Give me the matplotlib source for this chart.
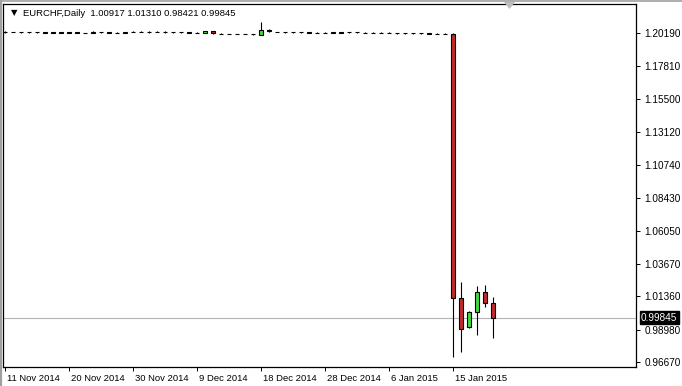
import matplotlib.pyplot as plt
from matplotlib.lines import Line2D
from matplotlib.patches import Polygon
import matplotlib.transforms as mtransforms
import numpy as np

plt.rcParams['font.family'] = ['Liberation Sans', 'DejaVu Sans']

# daily bars, Sundays included (MT4 style), 11 Nov 2014 .. 21 Jan 2015
opens = [1.2027, 1.2025, 1.2024, 1.2024, 1.2023, 1.2023, 1.2022, 1.2023, 1.2022, 1.2026,
         1.2021, 1.2021, 1.2024, 1.2023, 1.2022, 1.2022, 1.2026, 1.2028, 1.2027, 1.2028,
         1.2026, 1.2024, 1.2023, 1.2023, 1.2022, 1.2019, 1.2031, 1.2014, 1.2013, 1.2013,
         1.2012, 1.2011, 1.2008, 1.2042, 1.2027, 1.2026, 1.2023, 1.2024, 1.2023, 1.2022,
         1.2022, 1.2022, 1.2023, 1.2023, 1.2024, 1.2022, 1.2021, 1.2021, 1.2020, 1.2019,
         1.2018, 1.2017, 1.2016, 1.2016, 1.2015, 1.2014, 1.2012, 1.0124, 0.9917, 1.0024,
         1.0167, 1.00917]
highs = [1.2032, 1.2028, 1.2027, 1.2029, 1.2025, 1.2026, 1.2025, 1.2027, 1.2028, 1.2028,
         1.2022, 1.2030, 1.2029, 1.2027, 1.2024, 1.2027, 1.2030, 1.2032, 1.2033, 1.2033,
         1.2030, 1.2026, 1.2024, 1.2028, 1.2027, 1.2033, 1.2034, 1.2017, 1.2014, 1.2015,
         1.2015, 1.2014, 1.2098, 1.2045, 1.2028, 1.2029, 1.2028, 1.2026, 1.2024, 1.2025,
         1.2023, 1.2026, 1.2025, 1.2028, 1.2028, 1.2024, 1.2023, 1.2027, 1.2024, 1.2021,
         1.2020, 1.2019, 1.2017, 1.2018, 1.2017, 1.2016, 1.2018, 1.0239, 1.0031, 1.0210,
         1.0217, 1.01310]
lows = [1.2022, 1.2023, 1.2021, 1.2020, 1.2022, 1.2021, 1.2020, 1.2020, 1.2019, 1.2018,
        1.2020, 1.2019, 1.2020, 1.2019, 1.2020, 1.2018, 1.2024, 1.2025, 1.2021, 1.2024,
        1.2020, 1.2021, 1.2022, 1.2018, 1.2017, 1.2016, 1.2015, 1.2011, 1.2012, 1.2010,
        1.2009, 1.2008, 1.2006, 1.2029, 1.2025, 1.2021, 1.2020, 1.2021, 1.2021, 1.2019,
        1.2021, 1.2019, 1.2020, 1.2020, 1.2021, 1.2019, 1.2020, 1.2017, 1.2016, 1.2015,
        1.2015, 1.2014, 1.2015, 1.2013, 1.2012, 1.2011, 0.9702, 0.9738, 0.9910, 0.9860,
        1.0060, 0.98421]
closes = [1.2026, 1.2026, 1.2024, 1.2023, 1.2023, 1.2022, 1.2023, 1.2022, 1.2023, 1.2020,
          1.2021, 1.2024, 1.2023, 1.2022, 1.2021, 1.2023, 1.2027, 1.2027, 1.2028, 1.2027,
          1.2024, 1.2023, 1.2023, 1.2022, 1.2021, 1.2030, 1.2016, 1.2013, 1.2013, 1.2012,
          1.2011, 1.2010, 1.2043, 1.2031, 1.2026, 1.2023, 1.2024, 1.2023, 1.2022, 1.2021,
          1.2022, 1.2023, 1.2021, 1.2024, 1.2023, 1.2021, 1.2022, 1.2020, 1.2019, 1.2018,
          1.2017, 1.2016, 1.2016, 1.2015, 1.2014, 1.2013, 1.0124, 0.9903, 1.0024, 1.0167,
          1.0088, 0.99845]

price_ticks = [1.20190, 1.17810, 1.15500, 1.13120, 1.10740, 1.08430, 1.06050,
               1.03670, 1.01360, 0.98980, 0.96670]
date_pos = [0, 8, 16, 24, 32, 40, 48, 56]
date_labels = ['11 Nov 2014', '20 Nov 2014', '30 Nov 2014', '9 Dec 2014',
               '18 Dec 2014', '28 Dec 2014', '6 Jan 2015', '15 Jan 2015']
last_price = 0.99845
header = 'EURCHF,Daily  1.00917 1.01310 0.98421 0.99845'

bull = '#3fdc3f'
bear = '#c42a2a'

fig = plt.figure(figsize=(6.82, 3.86), dpi=100)
ax = fig.add_axes([3 / 682, 1 - 367 / 386, 633 / 682, 363 / 386])

x = np.arange(len(opens))
o = np.array(opens)
c = np.array(closes)
ax.vlines(x, lows, highs, color='black', linewidth=0.8, zorder=2)
cols = [bull if cc > oo else bear for oo, cc in zip(o, c)]
ax.bar(x, c - o, bottom=o, width=0.62, color=cols, edgecolor='black',
       linewidth=0.8, zorder=3)

ax.axhline(last_price, color='#b4b4b4', linewidth=0.8, zorder=1)

ax.set_xlim(-0.25, 78.875)
ax.set_ylim(0.96313, 1.22263)

for s in ax.spines.values():
    s.set_color('black')
    s.set_linewidth(0.9)

ax.yaxis.tick_right()
ax.set_yticks(price_ticks)
ax.set_yticklabels(['%.5f' % v for v in price_ticks])
ax.tick_params(axis='y', direction='out', length=3, width=0.7, pad=3,
               labelsize=7.2, colors='black')
ax.set_xticks(date_pos)
ax.set_xticklabels(date_labels, ha='left')
ax.tick_params(axis='x', direction='out', length=3, width=0.7, pad=2,
               labelsize=6.8, colors='black')
offset = mtransforms.ScaledTranslation(2 / 100, 0, fig.dpi_scale_trans)
for lbl in ax.get_xticklabels():
    lbl.set_transform(lbl.get_transform() + offset)

# current price box on the scale
ax.text(1.0 + 5 / 633, last_price, '%.5f' % last_price, transform=ax.get_yaxis_transform(),
        ha='left', va='center', fontsize=7.2, color='white', zorder=5,
        bbox=dict(boxstyle='square,pad=0.15', fc='black', ec='black'))

# header
ax.text(8 / 633, 1 - 9 / 363, '\u25bc', transform=ax.transAxes, ha='left', va='center',
        fontsize=6, family=['DejaVu Sans'])
ax.text(20 / 633, 1 - 9 / 363, header, transform=ax.transAxes, ha='left', va='center',
        fontsize=6.8)

# chart shift marker (drawn on top of the axes)
ax.add_patch(Polygon([[504 / 682, 1 - 2 / 386], [515 / 682, 1 - 2 / 386],
                      [509.5 / 682, 1 - 9 / 386]], closed=True,
                     transform=fig.transFigure, fc='#bdbdbd', ec='none',
                     zorder=10, clip_on=False))
# window borders
fig.lines.append(Line2D([0, 1], [1 - 0.5 / 386, 1 - 0.5 / 386], transform=fig.transFigure,
                        color='#a0a0a0', linewidth=1.2))
fig.lines.append(Line2D([0.8 / 682, 0.8 / 682], [0, 1], transform=fig.transFigure,
                        color='#a0a0a0', linewidth=1.6))

fig.savefig('out.png', dpi=100)
